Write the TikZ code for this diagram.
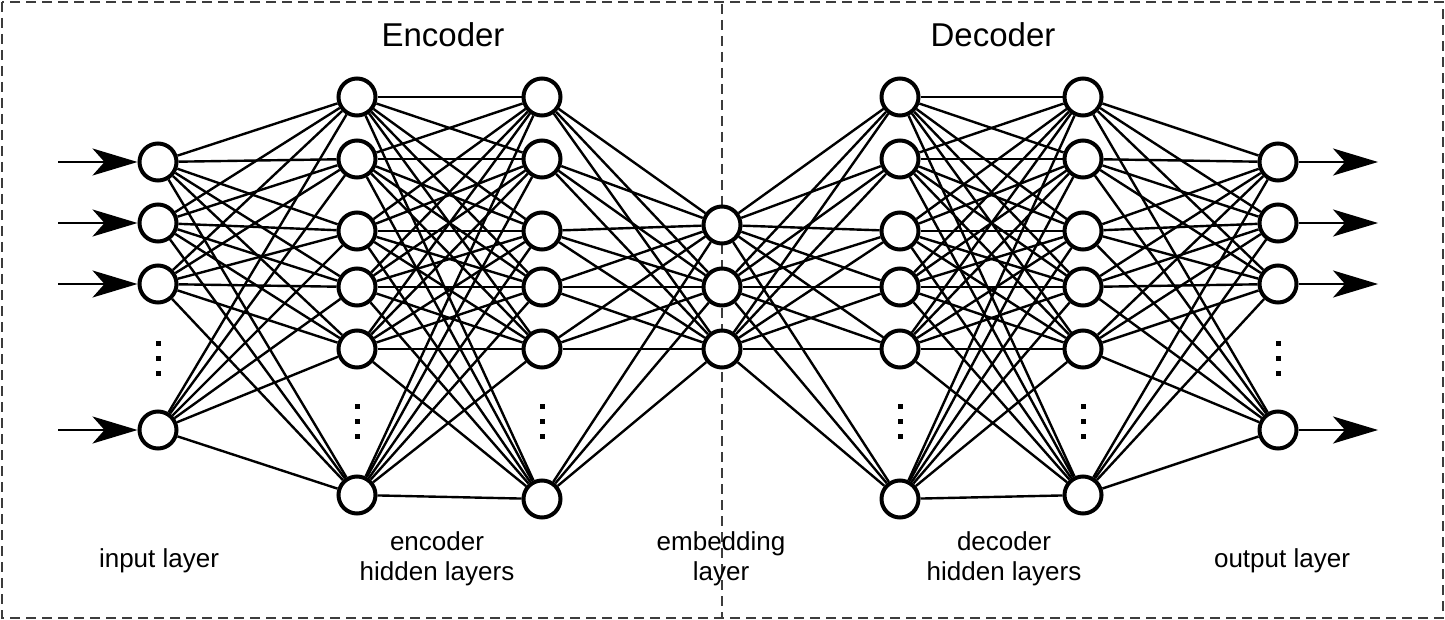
\documentclass[tikz,border=0pt]{standalone}
\usepackage{fontspec}
\setmainfont{Liberation Sans}
\usetikzlibrary{arrows.meta}
\definecolor{dashgray}{HTML}{3C3C3C}
\tikzset{
  neuron/.style={circle, draw=black, fill=white, line width=4pt, minimum size=37pt, inner sep=0pt},
  edge/.style={draw=black, line width=2.4pt},
  arr/.style={draw=black, line width=2.4pt, -{Stealth[length=45pt, width=27pt, inset=12pt]}},
  frame/.style={draw=dashgray, line width=2.5pt, dash pattern=on 10pt off 6pt},
  midline/.style={draw=dashgray, line width=2pt, dash pattern=on 10pt off 6pt},
  title/.style={font=\fontsize{33}{38}\selectfont, anchor=base, inner sep=0pt},
  lab/.style={font=\fontsize{26}{30}\selectfont, anchor=base, inner sep=0pt},
  dotsq/.style={fill=black}
}
\begin{document}
\begin{tikzpicture}[x=1pt,y=-1pt]
\useasboundingbox (0,0) rectangle (1445,620);
% frame and divider
\draw[frame] (2,2) rectangle (1443,618);
\draw[midline] (722,4) -- (722,618);
% titles
\node[title] (enctitle) at (443,47) {Encoder};
\node[title] (dectitle) at (993,47) {Decoder};
% input layer
\foreach \n/\y in {1/162,2/223,3/284,4/430}
  \node[neuron] (i\n) at (158,\y) {};
% encoder hidden 1
\foreach \n/\y in {1/97,2/159,3/231,4/287,5/349,6/495}
  \node[neuron] (a\n) at (357,\y) {};
% encoder hidden 2
\foreach \n/\y in {1/97,2/159,3/231,4/287,5/349,6/499}
  \node[neuron] (b\n) at (542,\y) {};
% embedding
\foreach \n/\y in {1/225,2/287,3/349}
  \node[neuron] (m\n) at (722,\y) {};
% decoder hidden 1
\foreach \n/\y in {1/97,2/159,3/231,4/287,5/349,6/499}
  \node[neuron] (c\n) at (900,\y) {};
% decoder hidden 2
\foreach \n/\y in {1/97,2/159,3/231,4/287,5/349,6/495}
  \node[neuron] (d\n) at (1083,\y) {};
% output layer
\foreach \n/\y in {1/162,2/223,3/284,4/430}
  \node[neuron] (o\n) at (1278,\y) {};
% connections
\foreach \s in {1,...,4}
  \foreach \t in {1,...,6}
    \draw[edge] (i\s) -- (a\t);
\foreach \s in {1,...,6}
  \foreach \t in {1,...,6}
    \draw[edge] (a\s) -- (b\t);
\foreach \s in {1,...,6}
  \foreach \t in {1,...,3}
    \draw[edge] (b\s) -- (m\t);
\foreach \s in {1,...,3}
  \foreach \t in {1,...,6}
    \draw[edge] (m\s) -- (c\t);
\foreach \s in {1,...,6}
  \foreach \t in {1,...,6}
    \draw[edge] (c\s) -- (d\t);
\foreach \s in {1,...,6}
  \foreach \t in {1,...,4}
    \draw[edge] (d\s) -- (o\t);
% input / output arrows
\foreach \n/\y in {1/162,2/223,3/284,4/430} {
  \coordinate (in\n) at (58,\y);
  \coordinate (out\n) at (1378,\y);
  \draw[arr] (in\n) -- (i\n);
  \draw[arr] (o\n) -- (out\n);
}
% vertical dots
\foreach \x/\ya in {158/343,1278/343,357/406,542/406,900/406,1083/406}
  \foreach \k in {0,1,2}
    \fill[dotsq] (\x-2.5,\ya+15*\k-2.5) rectangle (\x+2.5,\ya+15*\k+2.5);
% labels
\node[lab] (inlab) at (159,567) {input layer};
\node[lab] (enclab1) at (437,550) {encoder};
\node[lab] (enclab2) at (437,580) {hidden layers};
\node[lab] (emblab1) at (721,550) {embedding};
\node[lab] (emblab2) at (721,580) {layer};
\node[lab] (declab1) at (1004,550) {decoder};
\node[lab] (declab2) at (1004,580) {hidden layers};
\node[lab] (outlab) at (1282,567) {output layer};
\end{tikzpicture}
\end{document}
